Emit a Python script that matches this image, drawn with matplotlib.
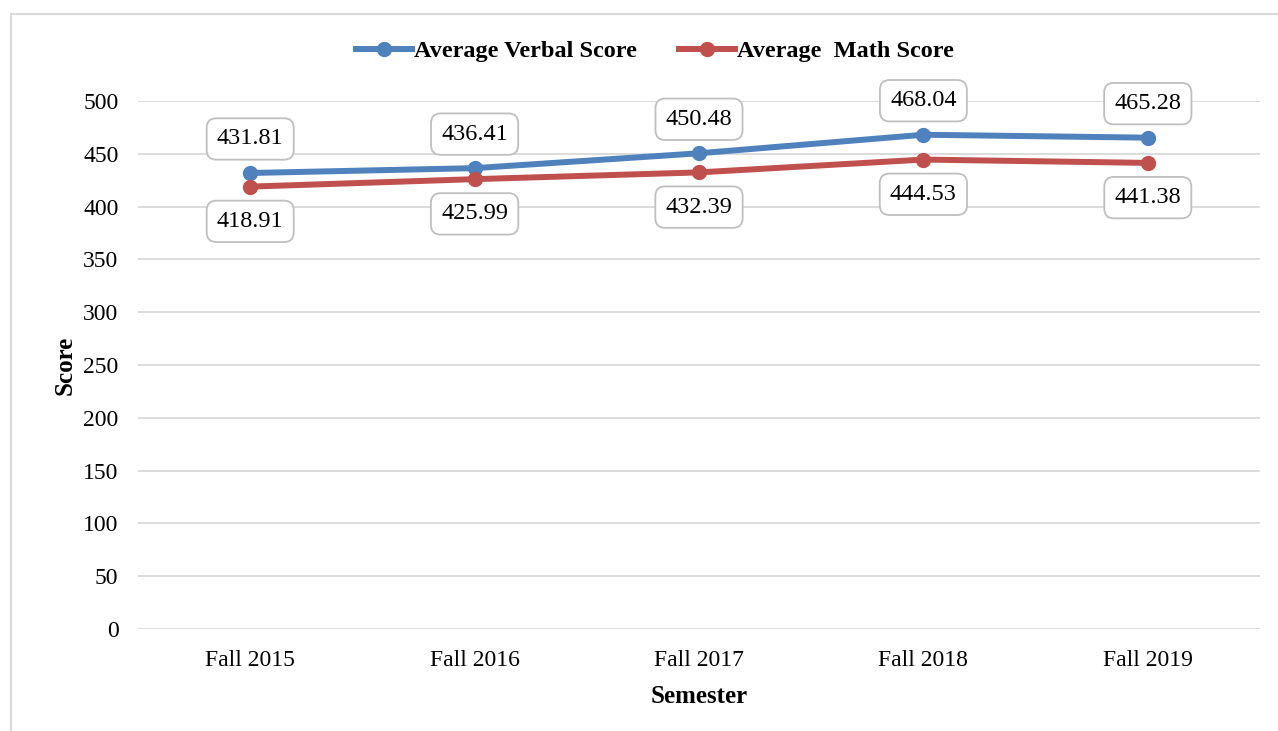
import matplotlib.pyplot as plt
from matplotlib.patches import Rectangle

semesters = ['Fall 2015', 'Fall 2016', 'Fall 2017', 'Fall 2018', 'Fall 2019']
verbal = [431.81, 436.41, 450.48, 468.04, 465.28]
math_score = [418.91, 425.99, 432.39, 444.53, 441.38]
yticks = [0, 50, 100, 150, 200, 250, 300, 350, 400, 450, 500]

blue = '#4F81BD'
red = '#C0504D'

plt.rcParams['font.family'] = ['Liberation Serif', 'DejaVu Serif']

fig = plt.figure(figsize=(12.78, 7.31), dpi=100)
ax = fig.add_axes([138 / 1278, 1 - 629 / 731, 1122 / 1278, 528 / 731])

x = list(range(len(semesters)))
ax.plot(x, verbal, color=blue, lw=4.3, marker='o', ms=10, label='Average Verbal Score', zorder=3)
ax.plot(x, math_score, color=red, lw=4.3, marker='o', ms=10, label='Average  Math Score', zorder=3)

box = dict(boxstyle='round,pad=0.42,rounding_size=0.4', fc='white', ec='#bfbfbf', lw=1.3)
for i in x:
    ax.annotate(f'{verbal[i]:.2f}', (i, verbal[i]), xytext=(0, 24.5), textcoords='offset points',
                ha='center', va='center', fontsize=17.5, bbox=box, zorder=4)
    ax.annotate(f'{math_score[i]:.2f}', (i, math_score[i]), xytext=(0, -25), textcoords='offset points',
                ha='center', va='center', fontsize=17.5, bbox=box, zorder=4)

ax.set_xlim(-0.5, 4.5)
ax.set_ylim(0, 500)
ax.set_yticks(yticks)
ax.set_xticks(x)
ax.set_xticklabels(semesters)
ax.tick_params(axis='both', length=0, labelsize=17)
ax.tick_params(axis='y', pad=14)
ax.tick_params(axis='x', pad=15)
ax.grid(axis='y', color='#d9d9d9', lw=1.3)
ax.set_axisbelow(True)
for s in ax.spines.values():
    s.set_visible(False)

ax.set_ylabel('Score', fontsize=18, fontweight='bold', labelpad=5)
ax.set_xlabel('Semester', fontsize=18, fontweight='bold', labelpad=10)

fig.legend(loc='center', bbox_to_anchor=(655 / 1278, 1 - 51 / 731), ncol=2, frameon=False,
           prop={'size': 17.5, 'weight': 'bold'}, handlelength=2.3, handletextpad=0.12,
           columnspacing=1.7)

fig.patches.append(Rectangle((11 / 1278, -0.1), 1.2, 1.1 - 14 / 731,
                             transform=fig.transFigure, fill=False, ec='#d9d9d9', lw=1.5))

fig.savefig('out.png', dpi=100)
